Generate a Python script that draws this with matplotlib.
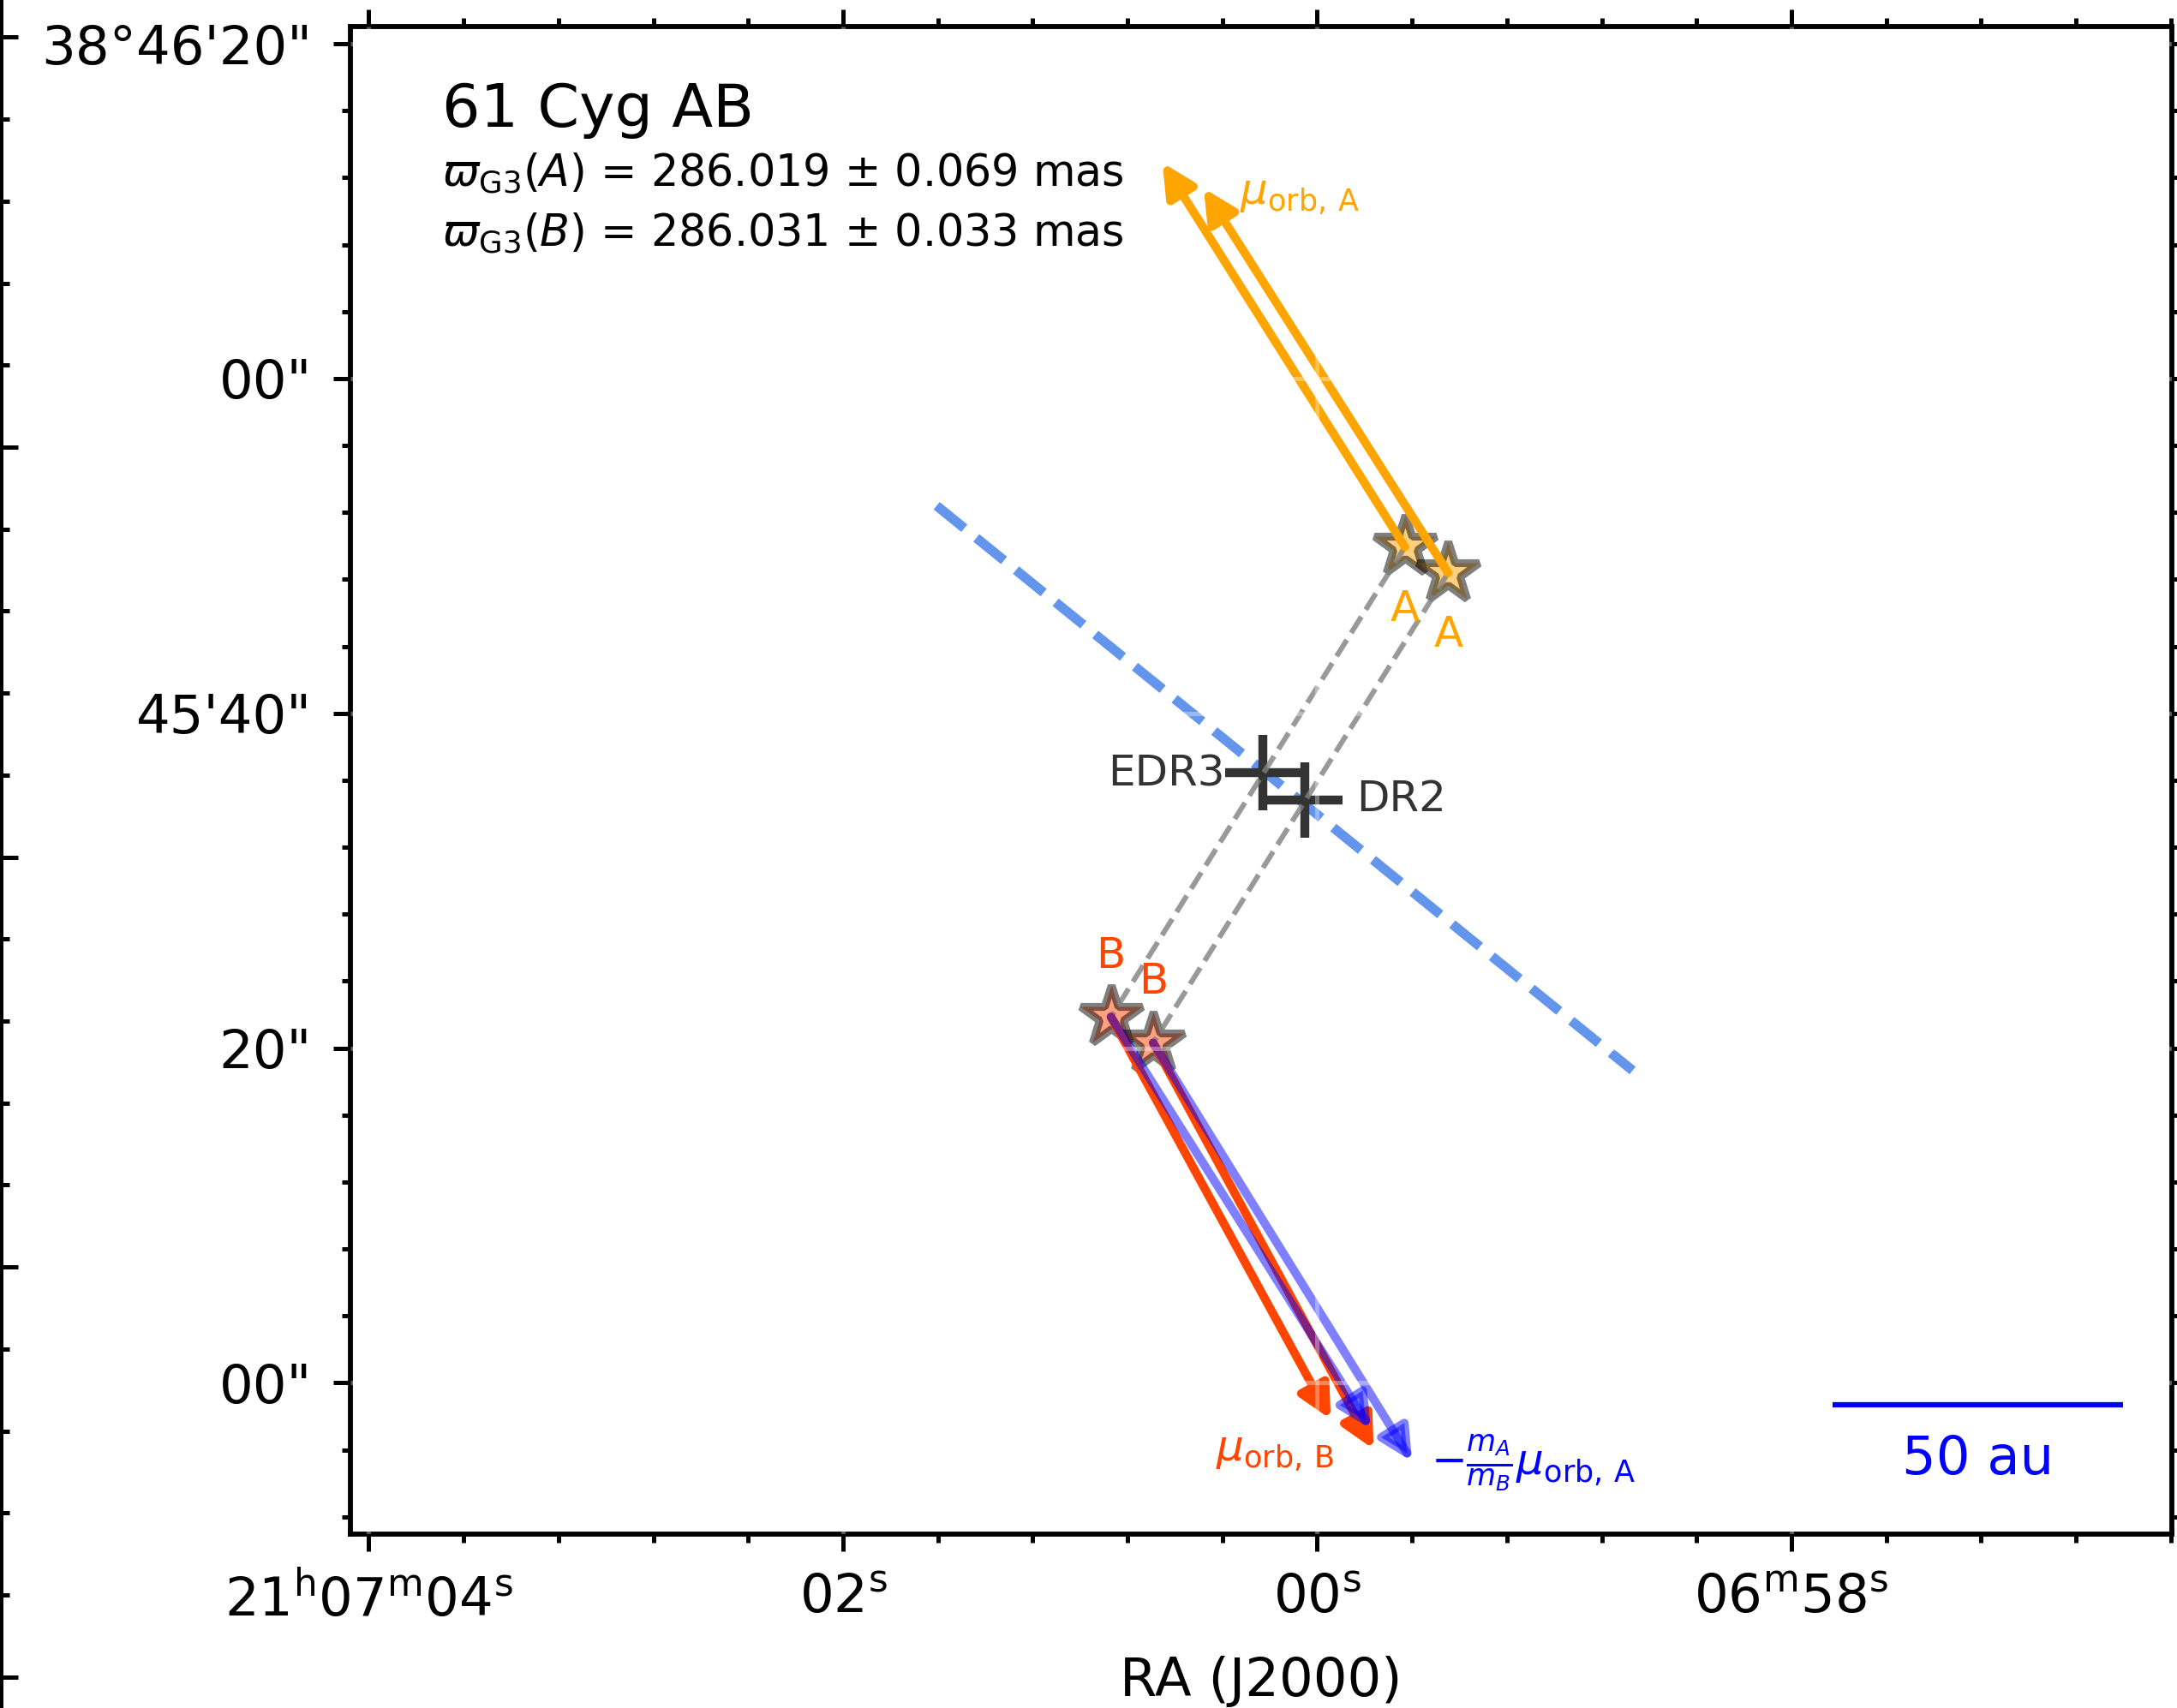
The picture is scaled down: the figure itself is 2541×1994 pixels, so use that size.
import numpy as np
import matplotlib
matplotlib.use('Agg')
import matplotlib.pyplot as plt
from matplotlib.ticker import MultipleLocator, FixedLocator, FixedFormatter

# RA in seconds relative to 21h07m00s, Dec in arcsec relative to +38d45m00s
epochs = ['EDR3', 'DR2']
ra_A = [-0.370, -0.552]
dec_A = [49.94, 48.39]
ra_B = [0.870, 0.692]
dec_B = [21.86, 20.31]
ra_cen = [0.230, 0.054]
dec_cen = [36.45, 34.80]

# orbital motion vectors (dRA [s], dDec [arcsec])
muA_dra = [1.023, 1.031]
muA_ddec = [22.95, 22.97]
muB_dra = [-0.927, -0.930]
muB_ddec = [-24.03, -24.27]
muAs_dra = [-1.096, -1.092]
muAs_ddec = [-24.61, -25.00]

# dashed line across the pair
line_ra = [1.605, -1.330]
line_dec = [52.40, 18.66]

plx_A, plx_A_err = 286.019, 0.069
plx_B, plx_B_err = 286.031, 0.033
dec0 = 38.76
scale_au = 50

xticks = [4, 2, 0, -2]
xticklabels = [r'21$^{\rm h}$07$^{\rm m}$04$^{\rm s}$', r'02$^{\rm s}$',
               r'00$^{\rm s}$', r'06$^{\rm m}$58$^{\rm s}$']
yticks = [0, 20, 40, 60, 80]
yticklabels = ['00"', '20"', "45'40\"", '00"', "38°46'20\""]

W, H = 2541, 1994
fig = plt.figure(figsize=(W / 300, H / 300), dpi=300)
ax = fig.add_axes([408.8 / W, 203.3 / H, 2125.9 / W, 1760.0 / H])

# separation line and connecting lines
ax.plot(line_ra, line_dec, ls='--', color='cornflowerblue', lw=2.7, zorder=1.0)
ax.plot(ra_cen, dec_cen, ls='none', marker='+', ms=21, mew=2.5,
        color='#333333', zorder=1.2)
ax.plot(ra_A, dec_A, ls='none', marker='*', ms=18, mew=2.2, mfc='orange',
        mec='k', alpha=0.5, zorder=1.3)
ax.plot(ra_B, dec_B, ls='none', marker='*', ms=18, mew=2.2, mfc='orangered',
        mec='k', alpha=0.5, zorder=1.3)
for i in range(2):
    ax.plot([ra_A[i], ra_B[i]], [dec_A[i], dec_B[i]], ls='--', color='gray',
            lw=1.45, alpha=0.8, zorder=1.4)


def arrow(x, y, dx, dy, color, alpha=1.0, z=1.6):
    ax.annotate('', xy=(x + dx, y + dy), xytext=(x, y), zorder=z,
                arrowprops=dict(arrowstyle='-|>', color=color, alpha=alpha,
                                lw=2.4, mutation_scale=19,
                                shrinkA=0, shrinkB=0))


for i in range(2):
    arrow(ra_A[i], dec_A[i], muA_dra[i], muA_ddec[i], 'orange')
for i in range(2):
    arrow(ra_B[i], dec_B[i], muB_dra[i], muB_ddec[i], 'orangered')
for i in range(2):
    arrow(ra_B[i], dec_B[i], muAs_dra[i], muAs_ddec[i], 'blue', 0.5, 1.7)

for i in range(2):
    ax.annotate('A', (ra_A[i], dec_A[i]), xytext=(0, -20.7),
                textcoords='offset points', ha='center', va='baseline',
                color='orange', fontsize=12)
    ax.annotate('B', (ra_B[i], dec_B[i]), xytext=(0, 13.8),
                textcoords='offset points', ha='center', va='baseline',
                color='orangered', fontsize=12)

ax.text(0.391, 35.68, epochs[0], ha='right', va='baseline', fontsize=12,
        color='#333333')
ax.text(-0.165, 34.15, epochs[1], ha='left', va='baseline', fontsize=12,
        color='#333333')

ax.text(0.328, 70.43, r'$\mu_{\rm orb,\,A}$', color='orange', fontsize=12,
        ha='left', va='baseline')
ax.text(0.429, -4.64, r'$\mu_{\rm orb,\,B}$', color='orangered', fontsize=12,
        ha='left', va='baseline')
ax.text(-0.479, -5.49, r'$-\frac{m_A}{m_B}\mu_{\rm orb,\,A}$', color='blue',
        fontsize=12, ha='left', va='baseline')

# scale bar
plx_mean = 0.5 * (plx_A + plx_B) / 1000.0
bar_len = scale_au * plx_mean / (15.0 * np.cos(np.radians(dec0)))
bar_right = -3.397
ax.plot([bar_right + bar_len, bar_right], [-1.31, -1.31], color='blue',
        lw=1.5, solid_capstyle='butt')
ax.text(bar_right + bar_len / 2, -5.46, '%d au' % scale_au, color='blue',
        fontsize=15, ha='center', va='baseline')

ax.text(0.0504, 0.9334, '61 Cyg AB', transform=ax.transAxes, fontsize=16.8,
        va='baseline')
ax.text(0.0504, 0.8942,
        r'$\varpi_{\rm G3}(A)$ = %.3f $\pm$ %.3f mas' % (plx_A, plx_A_err),
        transform=ax.transAxes, fontsize=12.2, va='baseline')
ax.text(0.0504, 0.8544,
        r'$\varpi_{\rm G3}(B)$ = %.3f $\pm$ %.3f mas' % (plx_B, plx_B_err),
        transform=ax.transAxes, fontsize=12.2, va='baseline')

ax.set_xlim(4.078, -3.603)
ax.set_ylim(-9.02, 81.04)
ax.xaxis.set_major_locator(FixedLocator(xticks))
ax.xaxis.set_major_formatter(FixedFormatter(xticklabels))
ax.yaxis.set_major_locator(FixedLocator(yticks))
ax.yaxis.set_major_formatter(FixedFormatter(yticklabels))
ax.xaxis.set_minor_locator(MultipleLocator(0.4))
ax.yaxis.set_minor_locator(MultipleLocator(4))
ax.tick_params(which='both', direction='out', top=True, right=True, width=1.2)
ax.tick_params(which='major', length=4.8, labelsize=15, pad=6)
ax.tick_params(which='minor', length=2.4)
for s in ax.spines.values():
    s.set_linewidth(1.4)
ax.set_xlabel('RA (J2000)', fontsize=15, labelpad=8)
ax.grid(True, which='major', color='white', alpha=0.35, lw=1.2)
ax.set_axisbelow(False)

# stray axis line at the left edge of the figure
lax = fig.add_axes([1.0 / W, 0, 0.0001, 1])
lax.set_ylim(H, 0)
lax.patch.set_visible(False)
for k in ['right', 'top', 'bottom']:
    lax.spines[k].set_visible(False)
lax.spines['left'].set_linewidth(1.2)
lax.set_xticks([])
lax.yaxis.set_major_locator(MultipleLocator(478.6, offset=43.4))
lax.yaxis.set_minor_locator(MultipleLocator(95.72, offset=43.4))
lax.tick_params(axis='y', which='both', direction='in', labelleft=False,
                width=1.2)
lax.tick_params(axis='y', which='major', length=4.8)
lax.tick_params(axis='y', which='minor', length=2.4)

fig.savefig('out.png', dpi=300)
